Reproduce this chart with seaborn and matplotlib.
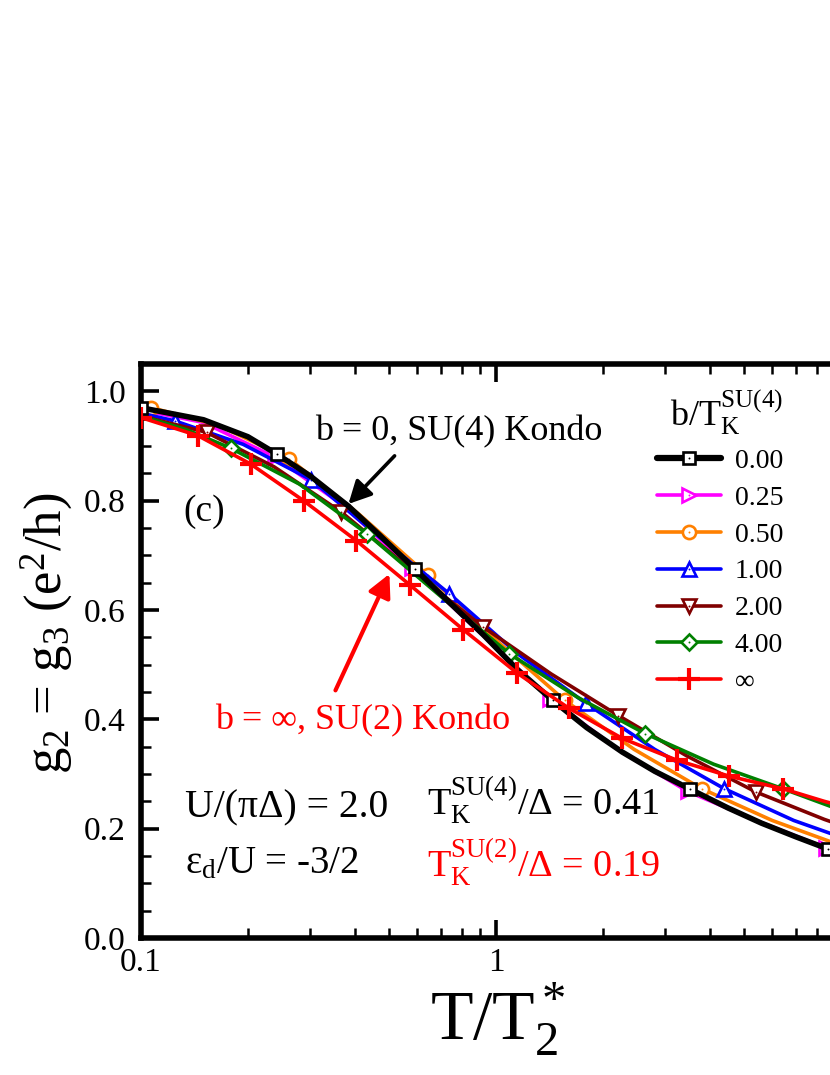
import matplotlib
matplotlib.use("Agg")
import matplotlib.pyplot as plt
import seaborn as sns
from matplotlib.lines import Line2D
from matplotlib.ticker import LogLocator, MultipleLocator, NullFormatter

# b/T_K^SU(4) = 0.00
x_b000 = [0.1, 0.15, 0.2, 0.2417, 0.3, 0.384, 0.47, 0.591, 0.75, 0.92, 1.145, 1.443,
          1.8, 2.27, 2.8, 3.53, 4.5, 5.6, 7.0, 8.6, 10.0]
y_b000 = [0.970, 0.948, 0.917, 0.885, 0.845, 0.790, 0.737, 0.675, 0.610, 0.555, 0.492, 0.435,
          0.385, 0.340, 0.305, 0.272, 0.238, 0.210, 0.185, 0.163, 0.147]
mk_b000 = [0, 3, 7, 11, 15, 19]

# 0.25
x_b025 = [0.1, 0.15, 0.238, 0.37, 0.58, 0.92, 1.42, 2.25, 3.47, 5.5, 8.5, 10.0]
y_b025 = [0.966, 0.943, 0.880, 0.792, 0.676, 0.553, 0.437, 0.341, 0.268, 0.213, 0.165, 0.150]
mk_b025 = [2, 4, 6, 8, 10]

# 0.50
x_b050 = [0.1, 0.107, 0.165, 0.262, 0.41, 0.642, 1.0, 1.56, 2.45, 3.8, 6.0, 9.3, 10.0]
y_b050 = [0.972, 0.970, 0.938, 0.876, 0.776, 0.664, 0.545, 0.435, 0.345, 0.273, 0.215, 0.170, 0.163]
mk_b050 = [1, 3, 5, 7, 9, 11]

# 1.00
x_b100 = [0.1, 0.1245, 0.194, 0.302, 0.47, 0.738, 1.15, 1.795, 2.8, 4.4, 6.9, 10.0]
y_b100 = [0.960, 0.946, 0.903, 0.838, 0.733, 0.630, 0.520, 0.429, 0.345, 0.273, 0.215, 0.178]
mk_b100 = [1, 3, 5, 7, 9]

# 2.00
x_b200 = [0.1, 0.153, 0.237, 0.367, 0.58, 0.92, 1.43, 2.21, 3.45, 5.4, 8.41, 10.0]
y_b200 = [0.955, 0.925, 0.862, 0.779, 0.672, 0.569, 0.483, 0.407, 0.333, 0.267, 0.217, 0.200]
mk_b200 = [1, 3, 5, 7, 9]

# 4.00
x_b400 = [0.1, 0.134, 0.179, 0.28, 0.434, 0.69, 1.09, 1.7, 2.63, 4.1, 6.43, 10.0]
y_b400 = [0.955, 0.930, 0.896, 0.830, 0.739, 0.628, 0.520, 0.440, 0.374, 0.318, 0.273, 0.227]
mk_b400 = [2, 4, 6, 8, 10]

# infinity
x_binf = [0.1, 0.1446, 0.2037, 0.287, 0.404, 0.574, 0.809, 1.145, 1.607, 2.27, 3.24, 4.54,
          6.43, 8.41, 10.0]
y_binf = [0.952, 0.919, 0.867, 0.800, 0.727, 0.645, 0.564, 0.485, 0.420, 0.365, 0.325, 0.296,
          0.273, 0.250, 0.237]
mk_binf = [0, 1, 2, 3, 4, 5, 6, 7, 8, 9, 10, 11, 12]

labels = ["0.00", "0.25", "0.50", "1.00", "2.00", "4.00", "∞"]
xticks = [0.1, 1, 10]
xtick_labels = ["0.1", "1", ""]
yticks = [0.0, 0.2, 0.4, 0.6, 0.8, 1.0]

sns.set_style("ticks")
plt.rcParams["font.family"] = ["Liberation Serif", "DejaVu Serif"]
plt.rcParams["mathtext.fontset"] = "custom"
plt.rcParams["mathtext.rm"] = "Liberation Serif"
plt.rcParams["mathtext.it"] = "Liberation Serif:italic"
plt.rcParams["mathtext.default"] = "regular"
plt.rcParams["text.color"] = "black"
plt.rcParams["axes.edgecolor"] = "black"
plt.rcParams["xtick.color"] = "black"
plt.rcParams["ytick.color"] = "black"

fig = plt.figure(figsize=(8.3, 10.75), dpi=100)
ax = fig.add_axes([141 / 830, 137 / 1075, 710 / 830, 574 / 1075])
ax.set_xscale("log")

series = [
    (x_b025, y_b025, mk_b025, "#ff00ff", ">", 10, 2.6, 2),
    (x_b050, y_b050, mk_b050, "#ff8000", "o", 9.5, 2.6, 3),
    (x_b100, y_b100, mk_b100, "#0000ff", "^", 10.5, 2.6, 4),
    (x_b200, y_b200, mk_b200, "#800000", "v", 10.5, 2.6, 5),
    (x_b400, y_b400, mk_b400, "#008000", "D", 8.5, 2.6, 6),
    (x_b000, y_b000, mk_b000, "black", "s", 8.5, 4.0, 7),
    (x_binf, y_binf, mk_binf, "#ff0000", "+", 16, 2.6, 8),
]

handles = {}
for xs, ys, mk, c, m, ms, lw, z in series:
    mew = 3 if m == "+" else 1.9
    sns.lineplot(x=xs, y=ys, ax=ax, estimator=None, sort=False, color=c, linewidth=lw,
                 marker=m, markevery=mk, markersize=ms, markerfacecolor="white",
                 markeredgecolor=c, markeredgewidth=mew, zorder=z)
    h1 = Line2D([], [], color=c, lw=lw if m != "s" else 4.5, marker=m, ms=ms, mfc="white",
                mec=c, mew=mew)
    if m != "+":
        sns.lineplot(x=xs, y=ys, ax=ax, estimator=None, sort=False, color=c, linestyle="none",
                     marker=".", markevery=mk, markersize=2.8, markeredgewidth=0, zorder=z)
        h2 = Line2D([], [], color=c, ls="none", marker=".", ms=2.8, mew=0)
        handles[c] = (h1, h2)
    else:
        handles[c] = h1

ax.set_xlim(0.1, 10)
ax.set_ylim(0, 1.05)
ax.set_xticks(xticks)
ax.set_xticklabels(xtick_labels)
ax.xaxis.set_minor_locator(LogLocator(base=10, subs=range(2, 10)))
ax.xaxis.set_minor_formatter(NullFormatter())
ax.set_yticks(yticks)
ax.set_yticklabels([f"{v:.1f}" for v in yticks])
ax.yaxis.set_minor_locator(MultipleLocator(0.05))
ax.set_xlabel("")
ax.set_ylabel("")

for sp in ax.spines.values():
    sp.set_linewidth(4)
ax.tick_params(which="major", direction="in", length=13, width=2.6, top=True, right=True,
               labelsize=24)
ax.tick_params(axis="x", which="major", pad=7)
ax.tick_params(axis="y", which="major", pad=11)
ax.tick_params(which="minor", direction="in", length=7, width=1.8, top=True, right=True)

order = ["black", "#ff00ff", "#ff8000", "#0000ff", "#800000", "#008000", "#ff0000"]
leg = ax.legend([handles[c] for c in order], labels, loc="upper left",
                bbox_to_anchor=(657 / 830, 1 - 388 / 1075), bbox_transform=fig.transFigure,
                frameon=False, fontsize=20, handlelength=2.3, handletextpad=0.5,
                labelspacing=0.41, borderpad=0, borderaxespad=0, alignment="right",
                title="b/T$_K^{SU(4)}$", title_fontsize=26)

ax.annotate("", xy=(0.384, 0.794), xytext=(0.518, 0.882),
            arrowprops=dict(arrowstyle="-|>,head_length=0.55,head_width=0.28", color="black",
                            lw=2.6, mutation_scale=25, shrinkA=0, shrinkB=0))
ax.annotate("", xy=(0.501, 0.666), xytext=(0.353, 0.453),
            arrowprops=dict(arrowstyle="-|>,head_length=0.55,head_width=0.28", color="#ff0000",
                            lw=3, mutation_scale=25, shrinkA=0, shrinkB=0))

fig.text(315 / 830, 1 - 440 / 1075, "b = 0, SU(4) Kondo", fontsize=26, va="baseline")
fig.text(183 / 830, 1 - 512 / 1075, "(c)", fontsize=27, va="center")
fig.text(215 / 830, 1 - 729 / 1075, "b = ∞, SU(2) Kondo", fontsize=26, color="#ff0000",
         va="baseline")
fig.text(185 / 830, 1 - 817 / 1075, "U/(πΔ) = 2.0", fontsize=28.5, va="baseline")
fig.text(427 / 830, 1 - 815 / 1075, "T$_K^{SU(4)}$/Δ = 0.41", fontsize=27.5, va="baseline")
fig.text(185 / 830, 1 - 873 / 1075, "$ε_d$/U = -3/2", fontsize=28, va="baseline")
fig.text(427 / 830, 1 - 877 / 1075, "T$_K^{SU(2)}$/Δ = 0.19", fontsize=27.5, va="baseline",
         color="#ff0000")

fig.text(498 / 830, 1 - 1040 / 1075, "T/T$_2^*$", fontsize=50, ha="center", va="baseline")
fig.text(47 / 830, 1 - 633 / 1075, "g$_2$ = g$_3$ (e$^2$/h)", fontsize=38, rotation=90,
         ha="center", va="center")

fig.savefig("out.png", dpi=100)
